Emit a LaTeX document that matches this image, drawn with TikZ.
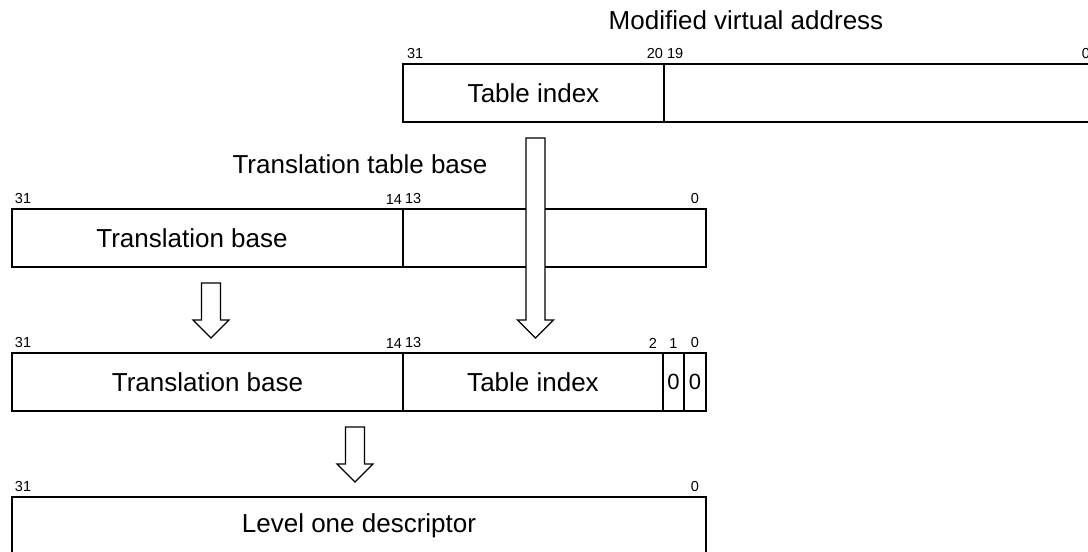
\documentclass[tikz,border=0pt]{standalone}
\usepackage{fontspec}
\setmainfont{Liberation Sans}
\usetikzlibrary{positioning}
\NewDocumentCommand{\blockarrow}{mm}{%
  \draw[blk] ([xshift=-9.5pt]#1) -- ([xshift=9.5pt]#1)
    -- ([xshift=9.5pt,yshift=18pt]#2) -- ([xshift=18pt,yshift=18pt]#2)
    -- (#2) -- ([xshift=-18pt,yshift=18pt]#2)
    -- ([xshift=-9.5pt,yshift=18pt]#2) -- cycle;}

\begin{document}
\begin{tikzpicture}[x=1pt, y=-1pt, line width=2pt,
        cell/.style = {draw, rectangle, minimum height=58pt, inner sep=0pt,
                        outer sep=0pt, font=\fontsize{26}{30}\selectfont},
        bit/.style = {inner sep=0pt, outer sep=0pt,
                        font=\fontsize{14.5}{14.5}\selectfont},
        head/.style = {inner sep=0pt, anchor=base,
                        font=\fontsize{26}{30}\selectfont},
        blk/.style = {draw, fill=white, line width=1.2pt, line join=miter}]
        \clip (0,0) rectangle (1088,552);

        % modified virtual address
        \node[head] (mvatitle) at (746,29) {Modified virtual address};
        \node[cell, minimum width=261pt, anchor=north west] (mvaidx) at (403,64) {Table index};
        \node[cell, minimum width=433pt, right=0pt of mvaidx] (mvaoff) {};
        \node[bit, above right=5pt and 4pt of mvaidx.north west] (m31) {31};
        \node[bit, above left=5pt and 1pt of mvaidx.north east] (m20) {20};
        \node[bit, above right=5pt and 3pt of mvaoff.north west] (m19) {19};
        \node[bit, above left=5pt and 7pt of mvaoff.north east] (m0) {0};

        % translation table base
        \node[head] (ttbtitle) at (360,173) {Translation table base};
        \node[cell, minimum width=391pt, anchor=north west] (ttbbase) at (12,209) {};
        \node[cell, minimum width=303pt, right=0pt of ttbbase] (ttbrest) {};
        \node[inner sep=0pt, font=\fontsize{26}{30}\selectfont] (ttbtext) at (192,238) {Translation base};
        \node[bit, above right=5pt and 3pt of ttbbase.north west] (t31) {31};
        \node[bit, above left=5pt and 1pt of ttbbase.north east] (t14) {14};
        \node[bit, above right=5pt and 2pt of ttbrest.north west] (t13) {13};
        \node[bit, above left=5pt and 7pt of ttbrest.north east] (t0) {0};

        % first level descriptor address
        \node[cell, minimum width=391pt, anchor=north west] (fdbase) at (12,353) {Translation base};
        \node[cell, minimum width=260pt, right=0pt of fdbase] (fdidx) {Table index};
        \node[cell, minimum width=21pt, right=0pt of fdidx,
              font=\fontsize{22}{26}\selectfont] (fdb1) {0};
        \node[cell, minimum width=22pt, right=0pt of fdb1,
              font=\fontsize{22}{26}\selectfont] (fdb0) {0};
        \node[bit, above right=5pt and 3pt of fdbase.north west] (f31) {31};
        \node[bit, above left=5pt and 1pt of fdbase.north east] (f14) {14};
        \node[bit, above right=5pt and 2pt of fdidx.north west] (f13) {13};
        \node[bit, above left=5pt and 6pt of fdidx.north east] (f2) {2};
        \node[bit, above=5pt of fdb1.north] (f1) {1};
        \node[bit, above=5pt of fdb0.north] (f0) {0};

        % level one descriptor
        \node[cell, minimum width=694pt, anchor=north west] (desc) at (12,497) {Level one descriptor};
        \node[bit, above right=5pt and 3pt of desc.north west] (d31) {31};
        \node[bit, above left=5pt and 7pt of desc.north east] (d0) {0};

        % block arrows
        \coordinate (a1top) at (535.5,138);
        \coordinate (a1tip) at (535.5,338);
        \coordinate (a2top) at (211,283);
        \coordinate (a2tip) at (211,338);
        \coordinate (a3top) at (355,427);
        \coordinate (a3tip) at (355,482);
        \blockarrow{a1top}{a1tip}
        \blockarrow{a2top}{a2tip}
        \blockarrow{a3top}{a3tip}
    \end{tikzpicture}
\end{document}
